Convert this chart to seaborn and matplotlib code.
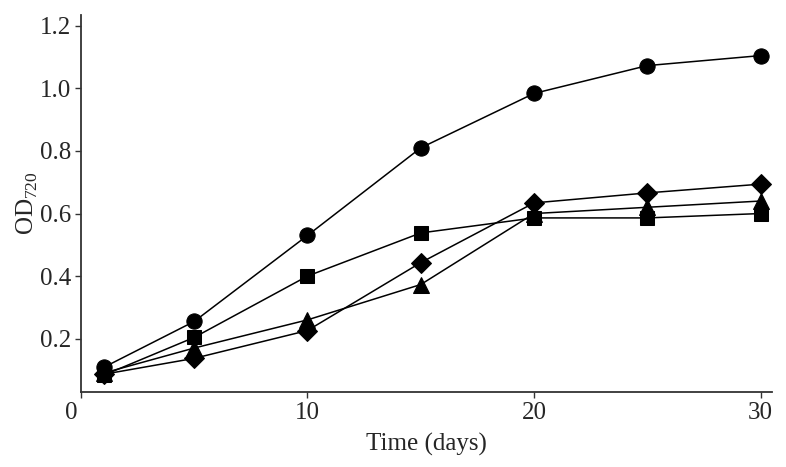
import matplotlib
matplotlib.use("Agg")
import matplotlib.pyplot as plt
import matplotlib.transforms as mtrans
import seaborn as sns
import pandas as pd

days = [1, 5, 10, 15, 20, 25, 30]
circle = [0.108, 0.255, 0.530, 0.810, 0.984, 1.073, 1.105]
square = [0.083, 0.204, 0.400, 0.538, 0.586, 0.586, 0.600]
diamond = [0.086, 0.137, 0.226, 0.443, 0.634, 0.666, 0.694]
triangle = [0.090, 0.170, 0.260, 0.373, 0.600, 0.620, 0.640]

series = {"circle": circle, "square": square, "diamond": diamond, "triangle": triangle}
rows = []
for name, vals in series.items():
    for d, v in zip(days, vals):
        rows.append({"day": d, "od": v, "series": name})
df = pd.DataFrame(rows)

sns.set_style("white")
plt.rcParams["font.family"] = ["Liberation Serif", "DejaVu Serif"]
plt.rcParams["mathtext.fontset"] = "custom"
plt.rcParams["mathtext.rm"] = "Liberation Serif"

fig = plt.figure(figsize=(7.86, 4.67), dpi=100)
ax = fig.add_axes([0.103, 0.161, 0.879, 0.807])

markers = {"circle": "o", "square": "s", "diamond": "D", "triangle": "^"}
msize = {"circle": 11, "square": 10, "diamond": 10, "triangle": 11}
for name in ["triangle", "diamond", "circle", "square"]:
    sub = df[df["series"] == name]
    sns.lineplot(data=sub, x="day", y="od", ax=ax, color="black", linewidth=1.1,
                 marker=markers[name], markersize=msize[name], markeredgecolor="black",
                 markerfacecolor="black", legend=False)

ax.set_xlim(0.1, 30.5)
ax.set_ylim(0.03, 1.235)
ax.set_xticks([0, 10, 20, 30])
ax.set_xticklabels(["0", "10", "20", "30"])
ax.set_yticks([0.2, 0.4, 0.6, 0.8, 1.0, 1.2])
ax.set_yticklabels(["0.2", "0.4", "0.6", "0.8", "1.0", "1.2"])
ax.tick_params(axis="both", labelsize=18, length=4, width=1.0, direction="out",
               bottom=True, left=True, color="#333333", pad=3)
ax.set_xlabel("Time (days)", fontsize=18, labelpad=7)
ax.set_ylabel("OD$_{720}$", fontsize=18, labelpad=0)
sns.despine(ax=ax)
for s in ["left", "bottom"]:
    ax.spines[s].set_color("#333333")
    ax.spines[s].set_linewidth(1.3)

lbl = ax.get_xticklabels()[0]
lbl.set_transform(lbl.get_transform() + mtrans.ScaledTranslation(-0.1, 0, fig.dpi_scale_trans))

fig.savefig("out.png", dpi=100)
